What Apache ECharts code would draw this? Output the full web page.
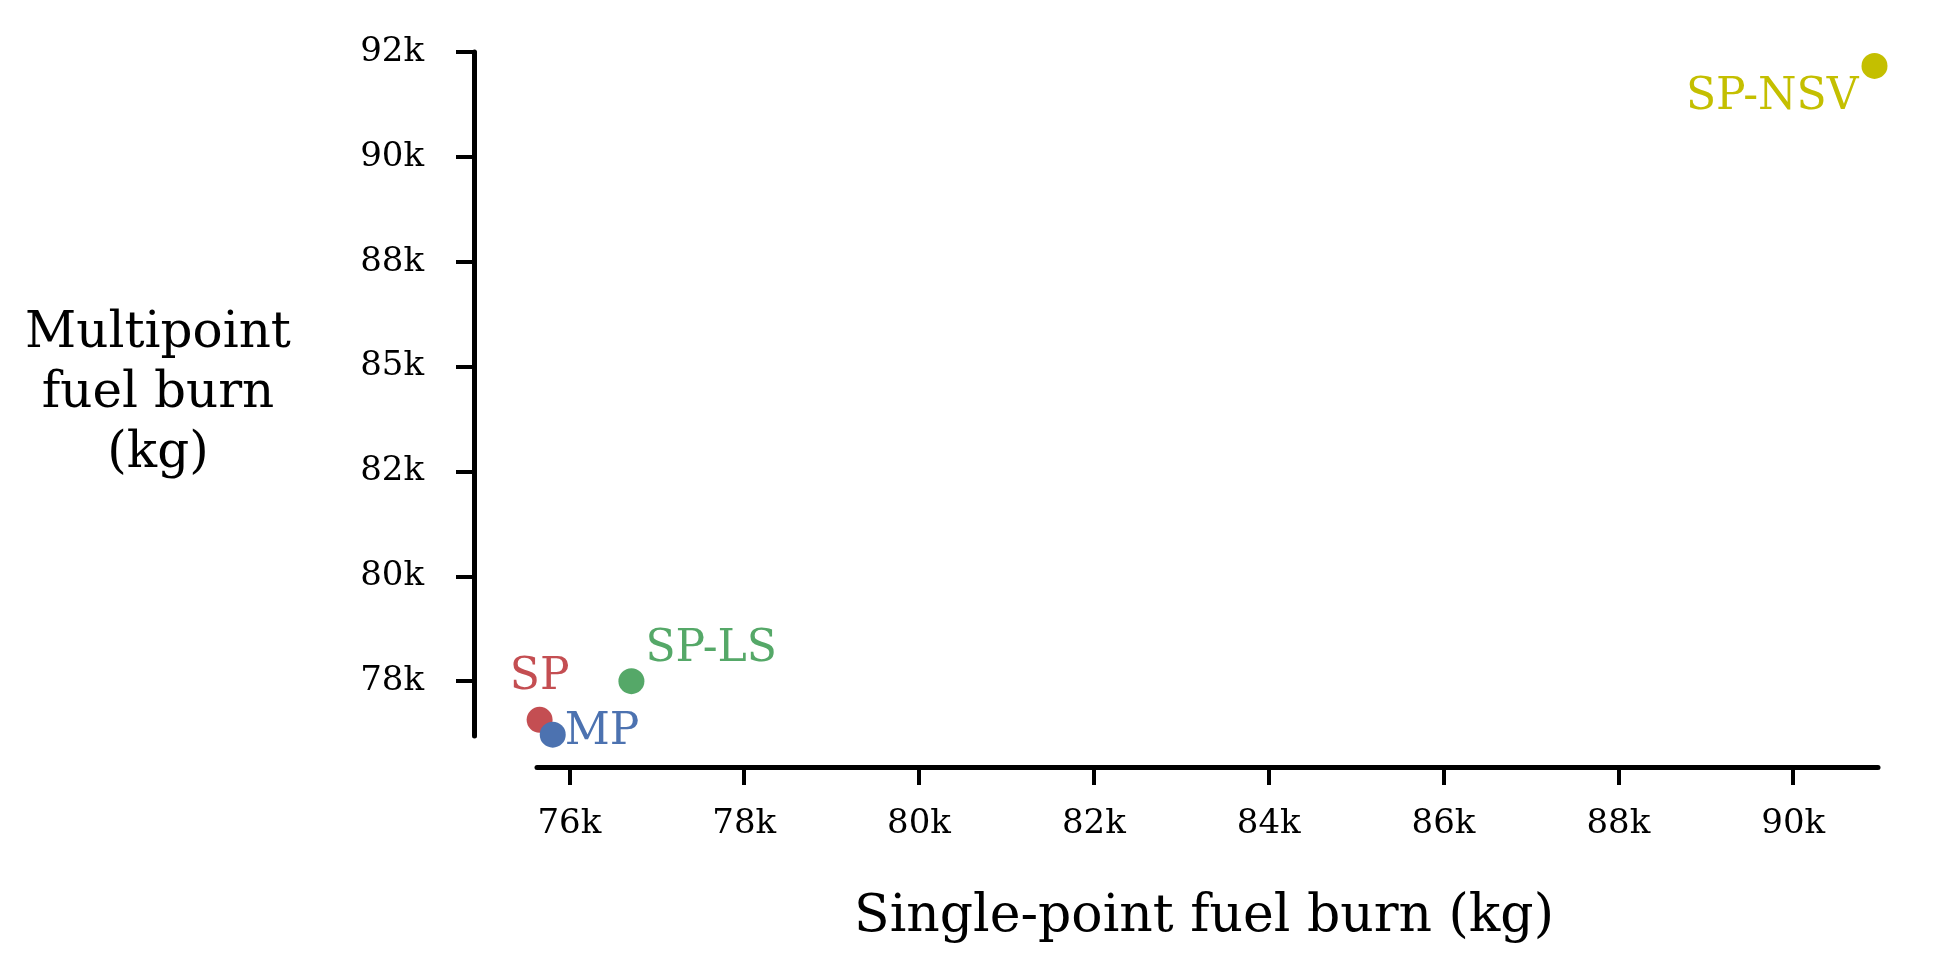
<!DOCTYPE html>
<html><head><meta charset="utf-8">
<script src="https://cdn.jsdelivr.net/npm/echarts@6/dist/echarts.min.js"></script>
<style>html,body{margin:0;padding:0;background:#fff}#c{width:1947px;height:960px}</style>
</head><body><div id="c"></div>
<script>
const names = ["SP-NSV","SP-LS","SP","MP"];
const xVals = [90930, 76710, 75660, 75810];
const yVals = [91690, 78000, 77140, 76810];
const colors = ["#c4bf00","#55a868","#c44e52","#4c72b0"];
const xTicks = [76000,78000,80000,82000,84000,86000,88000,90000];
const yTicks = [78000,80333,82667,85000,87333,89667,92000];
const yTickLabels = ["78k","80k","82k","85k","88k","90k","92k"];
const labelPos = [
  {position:'left', offset:[2,32]},
  {position:'right', offset:[-4,-32]},
  {position:'top', offset:[0,-2]},
  {position:'right', offset:[-6,-2]}
];
const font = "'DejaVu Serif', 'Liberation Serif', serif";
const chart = echarts.init(document.getElementById('c'));
chart.setOption({
  animation:false,
  grid:{left:537,right:69,top:52,bottom:224},
  xAxis:{type:'value',min:75630,max:90970,offset:31,
    axisLine:{show:true,lineStyle:{color:'#000',width:5}},
    axisTick:{show:true,length:18,lineStyle:{width:4,color:'#000'},customValues:xTicks},
    axisLabel:{customValues:xTicks,formatter:v=>Math.round(v/1000)+'k',fontFamily:font,fontSize:34,color:'#000',margin:40},
    splitLine:{show:false}},
  yAxis:{type:'value',min:76780,max:92000,offset:63,
    axisLine:{show:true,lineStyle:{color:'#000',width:5}},
    axisTick:{show:true,length:18,lineStyle:{width:4,color:'#000'},customValues:yTicks},
    axisLabel:{customValues:yTicks,formatter:v=>yTickLabels[yTicks.indexOf(v)],fontFamily:font,fontSize:34,color:'#000',margin:50},
    splitLine:{show:false}},
  graphic:[
    {type:'text',style:{text:'Multipoint\nfuel burn\n(kg)',x:158,y:394,textAlign:'center',textVerticalAlign:'middle',fontFamily:font,fontSize:50,lineHeight:60,fill:'#000'}},
    {type:'text',style:{text:'Single-point fuel burn (kg)',x:1204,y:917,textAlign:'center',textVerticalAlign:'middle',fontFamily:font,fontSize:52,fill:'#000'}}
  ],
  series: names.map((n,i)=>({
    type:'scatter',name:n,symbolSize:26,
    itemStyle:{color:colors[i],opacity:1},
    label:{show:true,formatter:n,position:labelPos[i].position,offset:labelPos[i].offset,color:colors[i],fontFamily:font,fontSize:44},
    data:[[xVals[i],yVals[i]]]
  }))
});
</script></body></html>
